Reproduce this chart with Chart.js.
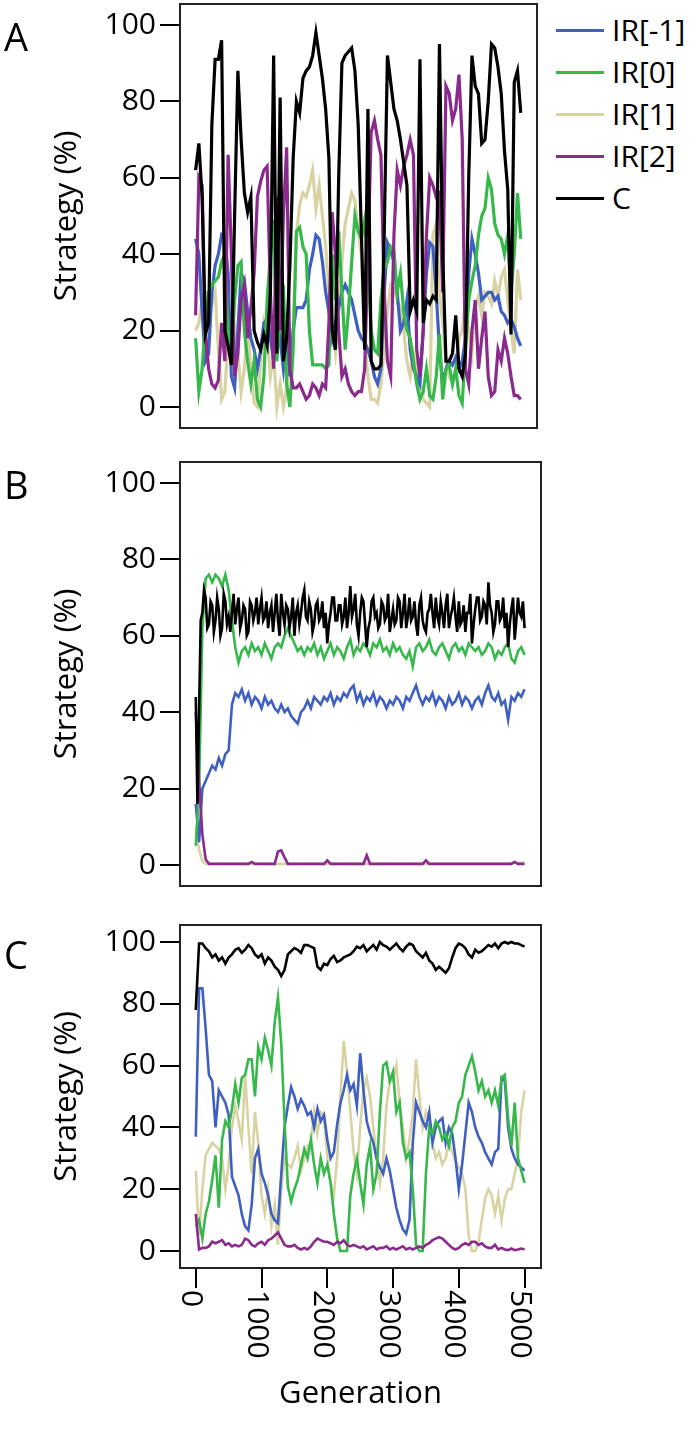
<!DOCTYPE html>
<html>
<head>
<meta charset="utf-8">
<title>Strategy over generations</title>
<script src="https://cdn.jsdelivr.net/npm/chart.js@4.4.1/dist/chart.umd.min.js"></script>
<style>
  body { margin: 0; background: #fff; font-family: "Open Sans", sans-serif; }
  #page { position: relative; width: 696px; height: 1449px; overflow: hidden; }
  .panel { position: absolute; left: 0; }
  .letter { position: absolute; left: 4px; font-size: 38px; line-height: 1; color: #000; }
  #legend { position: absolute; left: 556px; top: 9px; }
  .legend-row { display: flex; align-items: center; height: 42px; }
  .legend-line { width: 48px; height: 3px; margin-right: 8px; }
  .legend-text { font-size: 30px; color: #000; line-height: 42px; }
</style>
</head>
<body>
<div id="page">
  <div class="panel" style="top:0;width:550px;height:440px"><canvas id="chartA"></canvas></div>
  <div class="panel" style="top:450px;width:552px;height:445px"><canvas id="chartB"></canvas></div>
  <div class="panel" style="top:915px;width:552px;height:534px"><canvas id="chartC"></canvas></div>
  <div class="letter" style="top:17px">A</div>
  <div class="letter" style="top:465px">B</div>
  <div class="letter" style="top:935px">C</div>
  <div id="legend"></div>
</div>
<script>
// Series names and colours (legend order)
const seriesNames = ["IR[-1]", "IR[0]", "IR[1]", "IR[2]", "C"];
const seriesColors = ["#3f60c0", "#36b84a", "#d9d3a3", "#8a2a8c", "#000000"];
const drawOrder = [3, 2, 4, 1, 0];

// Axis ticks
const yTicks = [0, 20, 40, 60, 80, 100];
const xTicks = [0, 1000, 2000, 3000, 4000, 5000];
const xTickLabels = ["0", "1000", "2000", "3000", "4000", "5000"];

// Sampled generations (every 50)
const generations = [
    0, 50, 100, 150, 200, 250, 300, 350, 400, 450,
    500, 550, 600, 650, 700, 750, 800, 850, 900, 950,
    1000, 1050, 1100, 1150, 1200, 1250, 1300, 1350, 1400, 1450,
    1500, 1550, 1600, 1650, 1700, 1750, 1800, 1850, 1900, 1950,
    2000, 2050, 2100, 2150, 2200, 2250, 2300, 2350, 2400, 2450,
    2500, 2550, 2600, 2650, 2700, 2750, 2800, 2850, 2900, 2950,
    3000, 3050, 3100, 3150, 3200, 3250, 3300, 3350, 3400, 3450,
    3500, 3550, 3600, 3650, 3700, 3750, 3800, 3850, 3900, 3950,
    4000, 4050, 4100, 4150, 4200, 4250, 4300, 4350, 4400, 4450,
    4500, 4550, 4600, 4650, 4700, 4750, 4800, 4850, 4900, 4950,
    5000
];

// Finer sampling (every 25) for the noisy C line of panel B
const fineGenerations = [
    0, 25, 50, 75, 100, 125, 150, 175, 200, 225, 250, 275, 300, 325, 350, 375, 400, 425, 450, 475,
    500, 525, 550, 575, 600, 625, 650, 675, 700, 725, 750, 775, 800, 825, 850, 875, 900, 925, 950, 975,
    1000, 1025, 1050, 1075, 1100, 1125, 1150, 1175, 1200, 1225, 1250, 1275, 1300, 1325, 1350, 1375, 1400, 1425, 1450, 1475,
    1500, 1525, 1550, 1575, 1600, 1625, 1650, 1675, 1700, 1725, 1750, 1775, 1800, 1825, 1850, 1875, 1900, 1925, 1950, 1975,
    2000, 2025, 2050, 2075, 2100, 2125, 2150, 2175, 2200, 2225, 2250, 2275, 2300, 2325, 2350, 2375, 2400, 2425, 2450, 2475,
    2500, 2525, 2550, 2575, 2600, 2625, 2650, 2675, 2700, 2725, 2750, 2775, 2800, 2825, 2850, 2875, 2900, 2925, 2950, 2975,
    3000, 3025, 3050, 3075, 3100, 3125, 3150, 3175, 3200, 3225, 3250, 3275, 3300, 3325, 3350, 3375, 3400, 3425, 3450, 3475,
    3500, 3525, 3550, 3575, 3600, 3625, 3650, 3675, 3700, 3725, 3750, 3775, 3800, 3825, 3850, 3875, 3900, 3925, 3950, 3975,
    4000, 4025, 4050, 4075, 4100, 4125, 4150, 4175, 4200, 4225, 4250, 4275, 4300, 4325, 4350, 4375, 4400, 4425, 4450, 4475,
    4500, 4525, 4550, 4575, 4600, 4625, 4650, 4675, 4700, 4725, 4750, 4775, 4800, 4825, 4850, 4875, 4900, 4925, 4950, 4975,
    5000
];

// Panel A
const aIRm1 = [
    44, 40, 25, 12, 14, 30, 37, 40, 45, 44,
    35, 8, 5, 20, 35, 33, 25, 18, 15, 10,
    15, 22, 23, 18, 12, 15, 18, 10, 18, 8,
    20, 26, 26, 26, 28, 36, 40, 45, 44, 38,
    30, 25, 18, 22, 26, 30, 32, 30, 28, 24,
    20, 18, 17, 15, 12, 8, 6, 10, 30, 43,
    41, 38, 30, 20, 22, 28, 15, 10, 8, 6,
    20, 35, 43, 42, 30, 15, 6, 10, 12, 11,
    13, 10, 12, 18, 35, 44, 40, 35, 28, 29,
    30, 30, 28, 29, 25, 24, 22, 23, 21, 18,
    16
];
const aIR0 = [
    18, 4, 10, 22, 30, 32, 33, 34, 38, 40,
    20, 12, 28, 37, 38, 20, 12, 6, 12, 2,
    0, 8, 28, 40, 49, 12, 25, 32, 6, 0,
    15, 46, 47, 42, 40, 20, 11, 11, 11, 11,
    10, 11, 40, 28, 46, 30, 15, 25, 38, 50,
    46, 44, 49, 36, 20, 15, 14, 28, 36, 38,
    42, 41, 30, 35, 25, 20, 18, 12, 6, 2,
    4, 10, 3, 2, 8, 19, 2, 10, 11, 6,
    10, 3, 1, 15, 28, 33, 37, 45, 50, 52,
    60, 57, 48, 45, 44, 40, 45, 30, 40, 56,
    44
];
const aIR1 = [
    20, 22, 28, 30, 28, 27, 30, 15, 2, 4,
    18, 25, 22, 14, 4, 10, 22, 10, 1, 0,
    12, 22, 18, 8, 14, 0, 6, 0, 5, 12,
    20, 45, 53, 56, 55, 58, 62, 52, 58, 50,
    42, 30, 20, 14, 25, 38, 48, 52, 56, 54,
    46, 40, 18, 8, 2, 2, 1, 6, 15, 25,
    32, 31, 28, 26, 20, 12, 8, 14, 10, 4,
    2, 1, 0, 45, 48, 30, 22, 12, 8, 6,
    10, 18, 20, 28, 20, 14, 26, 29, 24, 30,
    29, 27, 33, 29, 34, 36, 28, 20, 14, 36,
    28
];
const aIR2 = [
    24, 60, 58, 20, 10, 6, 5, 7, 22, 12,
    66, 40, 8, 14, 28, 32, 18, 26, 35, 55,
    59, 62, 63, 30, 10, 55, 20, 50, 68, 10,
    5, 5, 6, 4, 2, 3, 6, 5, 3, 6,
    5, 22, 51, 40, 20, 8, 10, 6, 4, 3,
    4, 4, 10, 40, 72, 75, 70, 66, 30, 12,
    8, 45, 62, 58, 63, 66, 70, 66, 15, 8,
    20, 45, 60, 58, 55, 56, 30, 84, 82, 75,
    78, 87, 70, 10, 6, 20, 28, 10, 18, 25,
    8, 3, 4, 15, 12, 18, 14, 8, 3, 3,
    2
];
const aC = [
    62, 69, 55, 19, 22, 74, 91, 91, 96, 20,
    16, 11, 50, 88, 70, 56, 51, 55, 20, 17,
    15, 19, 16, 30, 92, 14, 81, 12, 18, 37,
    65, 80, 77, 86, 88, 89, 92, 98, 92, 86,
    78, 65, 20, 15, 60, 90, 92, 93, 94, 88,
    74, 45, 15, 78, 12, 10, 10, 11, 45, 92,
    85, 78, 75, 70, 64, 58, 25, 28, 25, 91,
    22, 28, 27, 29, 28, 95, 40, 12, 12, 14,
    24, 10, 8, 14, 60, 92, 84, 82, 69, 70,
    80, 95, 94, 89, 82, 67, 57, 19, 85, 88,
    77
];

// Panel B
const bIRm1 = [
    16, 6, 20, 22, 24, 26, 25, 28, 26, 29,
    30, 42, 45, 44, 46, 43, 45, 42, 44, 43,
    41, 44, 42, 43, 41, 40, 42, 40, 41, 39,
    38, 37, 40, 41, 43, 41, 44, 43, 42, 44,
    43, 45, 42, 44, 43, 45, 44, 46, 47, 43,
    45, 42, 44, 43, 45, 42, 44, 43, 41, 43,
    42, 44, 43, 41, 44, 43, 45, 47, 44, 42,
    44, 43, 45, 42, 44, 43, 41, 44, 42, 43,
    45, 42, 44, 43, 41, 43, 44, 42, 45, 47,
    44, 43, 45, 42, 43, 38, 44, 43, 45, 44,
    46
];
const bIR0 = [
    5, 20, 62, 75, 76, 74, 76, 75, 73, 76,
    72, 64, 57, 53, 56, 57, 55, 58, 56, 57,
    55, 58, 56, 54, 57, 58, 57, 60, 62, 60,
    58, 56, 57, 55, 57, 56, 58, 55, 57, 54,
    56, 58, 55, 57, 56, 54, 57, 59, 55, 57,
    56, 58, 57, 55, 58, 57, 59, 56, 57, 55,
    58, 56, 57, 55, 54, 56, 52, 57, 58, 56,
    57, 59, 56, 55, 57, 58, 56, 54, 57, 58,
    56, 57, 55, 58, 57, 56, 57, 55, 56, 58,
    57, 54, 56, 55, 57, 58, 54, 53, 56, 57,
    55
];
const bIR1 = [
    10, 4, 1, 0.3, 0.3, 0.3, 0.3, 0.3, 0.3, 0.3,
    0.3, 0.3, 0.3, 0.3, 0.3, 0.3, 0.3, 0.3, 0.3, 0.3,
    0.3, 0.3, 0.3, 0.3, 0.3, 0.3, 0.3, 0.3, 0.3, 0.3,
    0.3, 0.3, 0.3, 0.3, 0.3, 0.3, 0.3, 0.3, 0.3, 0.3,
    0.3, 0.3, 0.3, 0.3, 0.3, 0.3, 0.3, 0.3, 0.3, 0.3,
    0.3, 0.3, 0.3, 0.3, 0.3, 0.3, 0.3, 0.3, 0.3, 0.3,
    0.3, 0.3, 0.3, 0.3, 0.3, 0.3, 0.3, 0.3, 0.3, 0.3,
    0.3, 0.3, 0.3, 0.3, 0.3, 0.3, 0.3, 0.3, 0.3, 0.3,
    0.3, 0.3, 0.3, 0.3, 0.3, 0.3, 0.3, 0.3, 0.3, 0.3,
    0.3, 0.3, 0.3, 0.3, 0.3, 0.3, 0.5, 0.6, 0.5, 0.6,
    0.6
];
const bIR2 = [
    40, 22, 8, 1.5, 0.3, 0.3, 0.3, 0.3, 0.3, 0.3,
    0.3, 0.3, 0.3, 0.3, 0.3, 0.3, 0.3, 0.8, 0.3, 0.3,
    0.3, 0.3, 0.3, 0.3, 0.3, 3.5, 3.8, 2, 0.3, 0.3,
    0.3, 0.3, 0.3, 0.3, 0.3, 0.3, 0.3, 0.3, 0.3, 0.3,
    1.2, 0.3, 0.3, 0.3, 0.3, 0.3, 0.3, 0.3, 0.3, 0.3,
    0.3, 0.3, 2.5, 0.3, 0.3, 0.3, 0.3, 0.3, 0.3, 0.3,
    0.3, 0.3, 0.3, 0.3, 0.3, 0.3, 0.3, 0.3, 0.3, 0.3,
    1.2, 0.3, 0.3, 0.3, 0.3, 0.3, 0.3, 0.3, 0.3, 0.3,
    0.3, 0.3, 0.3, 0.3, 0.3, 0.3, 0.3, 0.3, 0.3, 0.3,
    0.3, 0.3, 0.3, 0.3, 0.3, 0.3, 0.3, 0.8, 0.3, 0.3,
    0.3
];
const bC = [
    44, 16, 40, 64, 66, 72, 70, 62, 63, 69, 68, 61, 64, 70, 67, 60, 62, 71, 69, 63,
    65, 61, 66, 71, 63, 67, 70, 62, 64, 68, 67, 60, 61, 69, 68, 64, 66, 70, 63, 67,
    70, 64, 65, 69, 62, 66, 68, 61, 66, 71, 64, 60, 71, 66, 63, 68, 67, 62, 65, 70,
    60, 66, 68, 63, 66, 70, 72, 65, 64, 69, 67, 61, 63, 68, 69, 64, 65, 69, 62, 66,
    58, 63, 66, 70, 70, 64, 64, 68, 68, 63, 65, 70, 62, 66, 73, 65, 67, 71, 63, 60,
    66, 70, 69, 63, 57, 62, 64, 69, 70, 65, 66, 62, 63, 69, 68, 64, 65, 71, 61, 64,
    67, 63, 64, 70, 69, 62, 66, 71, 62, 65, 70, 64, 65, 69, 63, 60, 68, 70, 64, 62,
    61, 66, 67, 71, 66, 62, 70, 65, 63, 69, 66, 62, 68, 71, 62, 65, 67, 70, 65, 61,
    69, 63, 64, 68, 61, 66, 66, 71, 58, 63, 67, 70, 70, 64, 65, 69, 68, 63, 74, 68,
    66, 61, 63, 69, 69, 64, 65, 70, 62, 66, 57, 63, 67, 70, 59, 64, 70, 66, 65, 69,
    62
];

// Panel C
const cIRm1 = [
    37, 85, 85, 72, 57, 55, 40, 52, 50, 48,
    44, 24, 21, 18, 12, 8, 6.7, 15, 30, 33,
    25, 22, 18, 12, 10, 9, 25, 40, 47, 53,
    50, 46, 49, 47, 44, 45, 40, 46, 42, 44,
    36, 30, 32, 41, 48, 52, 57, 52, 54, 47,
    64, 52, 42, 38, 35, 30, 27, 25, 30, 26,
    20, 14, 10, 7, 5.6, 10, 35, 48, 45, 42,
    40, 45, 35, 40, 42, 43, 35, 40, 38, 30,
    20, 28, 38, 48, 45, 40, 37, 35, 32, 30,
    28, 32, 33, 56, 55, 40, 33, 30, 28, 27,
    26
];
const cIR0 = [
    8, 10, 4, 12, 16, 23, 31, 14, 36, 42,
    40, 46, 54, 48, 56, 57, 62, 62, 50, 66,
    62, 69, 65, 60, 74, 82, 67, 42, 21, 16,
    20, 23, 28, 33, 30, 36, 28, 22, 30, 25,
    28, 22, 12, 4, 0, 0, 0, 18, 25, 30,
    22, 15, 28, 34, 20, 25, 45, 60, 61, 55,
    58, 45, 48, 35, 30, 32, 20, 2, 0, 0,
    25, 40, 38, 42, 40, 36, 38, 34, 40, 42,
    48, 50, 57, 60, 63, 58, 52, 55, 50, 52,
    48, 52, 47, 56, 57, 43, 34, 48, 30, 26,
    22
];
const cIR1 = [
    26, 5, 20, 31, 33, 35, 34, 33, 30, 20,
    28, 40, 47, 42, 36, 57, 40, 25, 45, 35,
    18, 12, 20, 8, 15, 2, 20, 30, 28, 27,
    30, 34, 26, 30, 34, 35, 45, 38, 45, 44,
    30, 22, 18, 30, 50, 68, 58, 45, 32, 25,
    40, 52, 56, 50, 40, 30, 22, 30, 47, 55,
    55, 60, 48, 40, 30, 36, 45, 62, 50, 40,
    45, 43, 35, 30, 32, 28, 30, 35, 32, 29,
    27, 25, 20, 5, 0, 0, 3, 10, 17, 20,
    18, 12, 18, 10, 17, 20, 20, 25, 30, 45,
    52
];
const cIR2 = [
    12, 0.5, 1, 1, 1.5, 3, 2.5, 3, 3.5, 2,
    2.5, 1.5, 2, 1.5, 2, 4, 3.5, 2, 1.5, 2.5,
    3, 2, 3.5, 4, 5, 6, 4, 2, 1.5, 1.5,
    2, 1, 0.5, 1, 0.5, 1.5, 3, 4, 3.5, 3,
    3, 2.5, 2, 3, 2.5, 3.5, 2, 1.5, 2, 1.5,
    1, 1.5, 0.5, 1, 1.5, 0.5, 1, 1, 1.5, 0.5,
    1, 0.5, 1, 1.5, 0.5, 1, 0.5, 1, 1.5, 1,
    2, 2.5, 3.5, 4, 4.5, 4, 3, 2, 1, 0.5,
    1, 2, 2.5, 2, 3, 3, 2, 2.5, 1.5, 1,
    1, 2, 0.5, 1, 0.5, 0.3, 0.8, 0.3, 0.5, 0.8,
    0.5
];
const cC = [
    78, 99.5, 99.5, 98, 97, 95, 96, 94, 95, 93,
    95, 96, 97.5, 98, 96.5, 97.5, 99, 98, 96, 95,
    96, 93, 95, 94, 92, 91, 89, 91, 96, 97,
    98, 97.5, 96.5, 99, 99, 98.5, 98, 92, 91, 93,
    92.5, 94.5, 95.5, 93.5, 94, 95, 95.5, 96, 97, 98.5,
    98, 99, 97, 98, 99, 97.5, 100, 99, 98.5, 97.5,
    98.5, 99.5, 98, 97, 98.5, 99.5, 99, 97, 96, 95,
    96.5, 94, 93, 91, 92, 91, 90, 91.5, 95, 98,
    99.5, 99, 98, 96, 95, 97.5, 96.5, 97, 98, 99,
    98.5, 99.5, 98, 99.5, 100, 99.5, 100, 99.5, 99.5, 99,
    98.5
];

const FONT = "Open Sans";

// Box around the plot area
const framePlugin = {
    id: "frame",
    afterDraw(chart) {
        const { ctx, chartArea: a } = chart;
        ctx.save();
        ctx.strokeStyle = "#222";
        ctx.lineWidth = 2;
        ctx.strokeRect(a.left, a.top, a.right - a.left, a.bottom - a.top);
        ctx.restore();
    }
};

// Generation labels read top to bottom under the ticks
const xLabelPlugin = {
    id: "xLabels",
    afterDraw(chart) {
        const { ctx, chartArea } = chart;
        const xs = chart.scales.x;
        ctx.save();
        ctx.font = "30px '" + FONT + "'";
        ctx.fillStyle = "#000";
        ctx.textAlign = "left";
        ctx.textBaseline = "middle";
        xTicks.forEach((v, i) => {
            ctx.save();
            ctx.translate(xs.getPixelForValue(v) - 5, chartArea.bottom + 22);
            ctx.rotate(Math.PI / 2);
            ctx.fillText(xTickLabels[i], 0, 0);
            ctx.restore();
        });
        ctx.restore();
    }
};

// series: list of [generationArray, valueArray], in legend order
function makeDatasets(series, width) {
    return seriesNames.map((name, i) => ({
        label: name,
        data: series[i][1].map((v, k) => ({ x: series[i][0][k], y: v })),
        borderColor: seriesColors[i],
        borderWidth: width,
        pointRadius: 0,
        tension: 0,
        fill: false,
        order: drawOrder[i]
    }));
}

function makeOptions(padding, showX) {
    const xAxis = {
        type: "linear",
        min: -240,
        max: 5250,
        display: showX
    };
    if (showX) {
        Object.assign(xAxis, {
            afterBuildTicks: (s) => { s.ticks = xTicks.map((v) => ({ value: v })); },
            afterFit: (s) => { s.height = 181; s.paddingLeft = 0; s.paddingRight = 0; },
            grid: { drawOnChartArea: false, drawTicks: true, tickLength: 20, color: "#000", lineWidth: 2 },
            border: { display: false },
            ticks: { display: false },
            title: {
                display: true,
                text: "Generation",
                color: "#000",
                font: { family: FONT, size: 31 },
                padding: { top: 0, bottom: 36 }
            }
        });
    }
    return {
        animation: false,
        responsive: true,
        maintainAspectRatio: false,
        layout: { padding: padding },
        plugins: { legend: { display: false }, tooltip: { enabled: false } },
        scales: {
            x: xAxis,
            y: {
                min: -5.5,
                max: 105.5,
                afterBuildTicks: (s) => { s.ticks = yTicks.map((v) => ({ value: v })); },
                afterFit: (s) => { s.width = 180; s.paddingTop = 0; s.paddingBottom = 0; },
                grid: { drawOnChartArea: false, drawTicks: true, tickLength: 20, color: "#000", lineWidth: 2 },
                border: { display: false },
                ticks: { color: "#000", padding: 4, font: { family: FONT, size: 30 } },
                title: {
                    display: true,
                    text: "Strategy (%)",
                    color: "#000",
                    font: { family: FONT, size: 31 },
                    padding: { top: 49, bottom: 0 }
                }
            }
        }
    };
}

document.addEventListener("DOMContentLoaded", function () {
    Chart.defaults.font.family = FONT;
    const g = generations;

    new Chart(document.getElementById("chartA"), {
        type: "line",
        data: { datasets: makeDatasets([[g, aIRm1], [g, aIR0], [g, aIR1], [g, aIR2], [g, aC]], 3.2) },
        options: makeOptions({ left: 0, top: 4, right: 13, bottom: 12 }, false),
        plugins: [framePlugin]
    });

    new Chart(document.getElementById("chartB"), {
        type: "line",
        data: { datasets: makeDatasets([[g, bIRm1], [g, bIR0], [g, bIR1], [g, bIR2], [fineGenerations, bC]], 2.6) },
        options: makeOptions({ left: 0, top: 12, right: 11, bottom: 9 }, false),
        plugins: [framePlugin]
    });

    new Chart(document.getElementById("chartC"), {
        type: "line",
        data: { datasets: makeDatasets([[g, cIRm1], [g, cIR0], [g, cIR1], [g, cIR2], [g, cC]], 2.6) },
        options: makeOptions({ left: 0, top: 10, right: 11, bottom: 0 }, true),
        plugins: [framePlugin, xLabelPlugin]
    });

    // Legend beside panel A
    const legend = document.getElementById("legend");
    seriesNames.forEach((name, i) => {
        const row = document.createElement("div");
        row.className = "legend-row";
        const line = document.createElement("div");
        line.className = "legend-line";
        line.style.background = seriesColors[i];
        const text = document.createElement("span");
        text.className = "legend-text";
        text.textContent = name;
        row.appendChild(line);
        row.appendChild(text);
        legend.appendChild(row);
    });
});
</script>
</body>
</html>
